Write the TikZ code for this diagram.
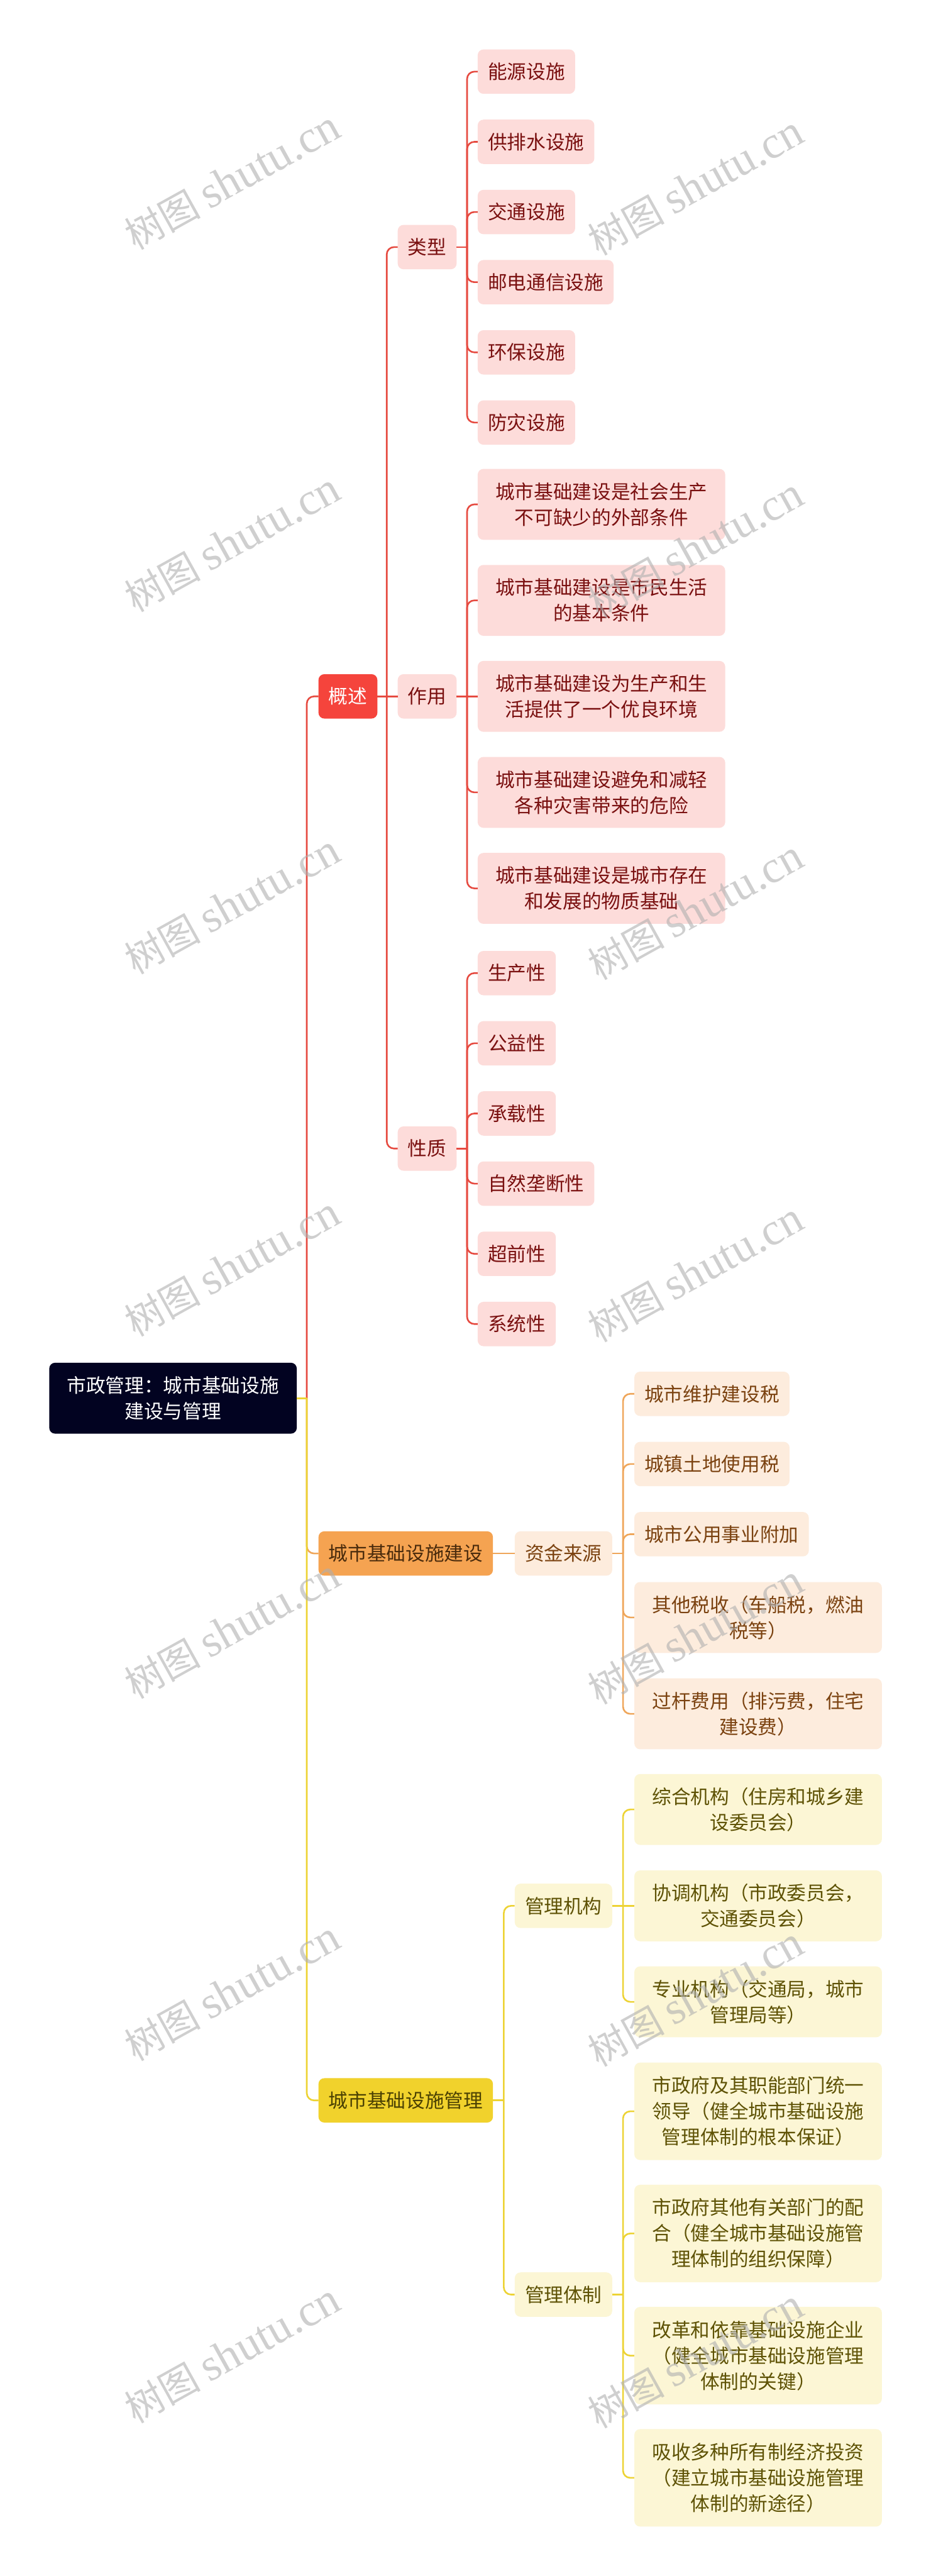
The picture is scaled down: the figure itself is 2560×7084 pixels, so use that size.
\documentclass[tikz,border=0pt]{standalone}
\usepackage{fontspec}
\newfontfamily\cjk{Noto Sans CJK SC}
\newfontfamily\wmlat{Liberation Serif}
\definecolor{rootfill}{RGB}{2,3,33}
\definecolor{redfill}{RGB}{245,68,60}
\definecolor{redline}{RGB}{230,74,64}
\definecolor{pinkfill}{RGB}{253,220,218}
\definecolor{pinktext}{RGB}{122,16,16}
\definecolor{orgfill}{RGB}{245,163,81}
\definecolor{orgtext}{RGB}{74,43,12}
\definecolor{orgline}{RGB}{239,166,90}
\definecolor{peachfill}{RGB}{253,236,221}
\definecolor{peachtext}{RGB}{123,66,16}
\definecolor{yelfill}{RGB}{241,210,44}
\definecolor{yeltext}{RGB}{75,65,3}
\definecolor{yelline}{RGB}{237,211,52}
\definecolor{creamfill}{RGB}{252,246,213}
\definecolor{creamtext}{RGB}{94,82,5}
\definecolor{wmgray}{RGB}{175,175,175}
\tikzset{
  box/.style={rounded corners=16pt, inner xsep=28pt, inner ysep=0pt,
    font=\cjk\fontsize{53}{71}\selectfont, align=center, anchor=west},
  one/.style={minimum height=122pt},
  two/.style={minimum height=195pt},
  three/.style={minimum height=268pt},
  wide/.style={text width=625pt},
  rootst/.style={box, fill=rootfill, text=white, two, wide, anchor=center},
  redst/.style={box, one, fill=redfill, text=white},
  pinkst/.style={box, fill=pinkfill, text=pinktext},
  orgst/.style={box, one, fill=orgfill, text=orgtext},
  peachst/.style={box, fill=peachfill, text=peachtext},
  yelst/.style={box, one, fill=yelfill, text=yeltext},
  creamst/.style={box, fill=creamfill, text=creamtext},
  rl/.style={draw=redline, line width=4.5pt},
  ol/.style={draw=orgline, line width=4.5pt},
  yl/.style={draw=yelline, line width=4.5pt},
  wm/.style={text=wmgray, text opacity=0.6, rotate=29, anchor=base west, inner sep=0pt,
    font=\cjk\fontsize{105}{110}\selectfont},
}
\newcommand\wmtext{树图 {\wmlat\fontsize{125}{130}\selectfont shutu.cn}}
\begin{document}
\begin{tikzpicture}[x=1pt,y=-1pt]
\useasboundingbox (0,0) rectangle (2560,7084);
\fill[white] (0,0) rectangle (2560,7084);

% junctions
\coordinate (jr) at (844,3845);
\coordinate (jgs) at (1064,1915);
\coordinate (jlx) at (1285,679.5);
\coordinate (jzy) at (1285,1915);
\coordinate (jxz) at (1285,3158.5);
\coordinate (jgl) at (1386,5776);
\coordinate (jzj) at (1714,4272);
\coordinate (jjg) at (1714,5241);
\coordinate (jtz) at (1714,6310);

% root
\node[rootst] (root) at (476,3845) {市政管理：城市基础设施\\建设与管理};

% level 1
\node[redst] (gs) at (876,1915) {概述};
\node[orgst] (js) at (876,4272) {城市基础设施建设};
\node[yelst] (gl) at (876,5776) {城市基础设施管理};

% level 2
\node[pinkst, one] (lx) at (1094,679.5) {类型};
\node[pinkst, one] (zy) at (1094,1915) {作用};
\node[pinkst, one] (xz) at (1094,3158.5) {性质};
\node[peachst, one] (zj) at (1416,4272) {资金来源};
\node[creamst, one] (jg) at (1416,5241) {管理机构};
\node[creamst, one] (tz) at (1416,6310) {管理体制};

% leaves: 类型
\node[pinkst, one] (lx1) at (1314,197) {能源设施};
\node[pinkst, one] (lx2) at (1314,390) {供排水设施};
\node[pinkst, one] (lx3) at (1314,583) {交通设施};
\node[pinkst, one] (lx4) at (1314,776) {邮电通信设施};
\node[pinkst, one] (lx5) at (1314,969) {环保设施};
\node[pinkst, one] (lx6) at (1314,1162) {防灾设施};
% leaves: 作用
\node[pinkst, two, wide] (zy1) at (1314,1387) {城市基础建设是社会生产\\不可缺少的外部条件};
\node[pinkst, two, wide] (zy2) at (1314,1651) {城市基础建设是市民生活\\的基本条件};
\node[pinkst, two, wide] (zy3) at (1314,1915) {城市基础建设为生产和生\\活提供了一个优良环境};
\node[pinkst, two, wide] (zy4) at (1314,2179) {城市基础建设避免和减轻\\各种灾害带来的危险};
\node[pinkst, two, wide] (zy5) at (1314,2443) {城市基础建设是城市存在\\和发展的物质基础};
% leaves: 性质
\node[pinkst, one] (xz1) at (1314,2676) {生产性};
\node[pinkst, one] (xz2) at (1314,2869) {公益性};
\node[pinkst, one] (xz3) at (1314,3062) {承载性};
\node[pinkst, one] (xz4) at (1314,3255) {自然垄断性};
\node[pinkst, one] (xz5) at (1314,3448) {超前性};
\node[pinkst, one] (xz6) at (1314,3641) {系统性};
% leaves: 资金来源
\node[peachst, one] (zj1) at (1745,3833) {城市维护建设税};
\node[peachst, one] (zj2) at (1745,4026) {城镇土地使用税};
\node[peachst, one] (zj3) at (1745,4219) {城市公用事业附加};
\node[peachst, two, wide] (zj4) at (1745,4448) {其他税收（车船税，燃油\\税等）};
\node[peachst, two, wide] (zj5) at (1745,4713) {过杆费用（排污费，住宅\\建设费）};
% leaves: 管理机构
\node[creamst, two, wide] (jg1) at (1745,4976) {综合机构（住房和城乡建\\设委员会）};
\node[creamst, two, wide] (jg2) at (1745,5241) {协调机构（市政委员会，\\交通委员会）};
\node[creamst, two, wide] (jg3) at (1745,5505) {专业机构（交通局，城市\\管理局等）};
% leaves: 管理体制
\node[creamst, three, wide] (tz1) at (1745,5806) {市政府及其职能部门统一\\领导（健全城市基础设施\\管理体制的根本保证）};
\node[creamst, three, wide] (tz2) at (1745,6142) {市政府其他有关部门的配\\合（健全城市基础设施管\\理体制的组织保障）};
\node[creamst, three, wide] (tz3) at (1745,6478) {改革和依靠基础设施企业\\（健全城市基础设施管理\\体制的关键）};
\node[creamst, three, wide] (tz4) at (1745,6814) {吸收多种所有制经济投资\\（建立城市基础设施管理\\体制的新途径）};

% ---------- connectors: red branch
\draw[rl] (root.east) -- (jr);
\draw[rl, rounded corners=20pt] (jr) |- (gs.west);
\draw[rl] (gs.east) -- (jgs);
\draw[rl, rounded corners=20pt] (jgs) |- (lx.west);
\draw[rl] (jgs) -- (zy.west);
\draw[rl, rounded corners=20pt] (jgs) |- (xz.west);
\draw[rl] (lx.east) -- (jlx);
\foreach \n in {lx1,lx2,lx3,lx4,lx5,lx6} {\draw[rl, rounded corners=20pt] (jlx) |- (\n.west);}
\draw[rl] (zy.east) -- (jzy);
\foreach \n in {zy1,zy2,zy4,zy5} {\draw[rl, rounded corners=20pt] (jzy) |- (\n.west);}
\draw[rl] (jzy) -- (zy3.west);
\draw[rl] (xz.east) -- (jxz);
\foreach \n in {xz1,xz2,xz3,xz4,xz5,xz6} {\draw[rl, rounded corners=20pt] (jxz) |- (\n.west);}

% ---------- orange branch
\draw[ol] (root.east) -- (jr);
\draw[ol, rounded corners=20pt] (jr) |- (js.west);
\draw[ol] (js.east) -- (zj.west);
\draw[ol] (zj.east) -- (jzj);
\foreach \n in {zj1,zj2,zj3,zj4,zj5} {\draw[ol, rounded corners=20pt] (jzj) |- (\n.west);}

% ---------- yellow branch
\draw[yl] (root.east) -- (jr);
\draw[yl, rounded corners=20pt] (jr) |- (gl.west);
\draw[yl] (gl.east) -- (jgl);
\draw[yl, rounded corners=20pt] (jgl) |- (jg.west);
\draw[yl, rounded corners=20pt] (jgl) |- (tz.west);
\draw[yl] (jg.east) -- (jjg);
\foreach \n in {jg1,jg3} {\draw[yl, rounded corners=20pt] (jjg) |- (\n.west);}
\draw[yl] (jjg) -- (jg2.west);
\draw[yl] (tz.east) -- (jtz);
\foreach \n in {tz1,tz2,tz3,tz4} {\draw[yl, rounded corners=20pt] (jtz) |- (\n.west);}

% ---------- watermarks
\foreach \k in {0,...,6} {
  \node[wm] (wl\k) at (372,690+996*\k) {\wmtext};
  \node[wm] (wr\k) at (1648,705+996*\k) {\wmtext};
}
\end{tikzpicture}
\end{document}
